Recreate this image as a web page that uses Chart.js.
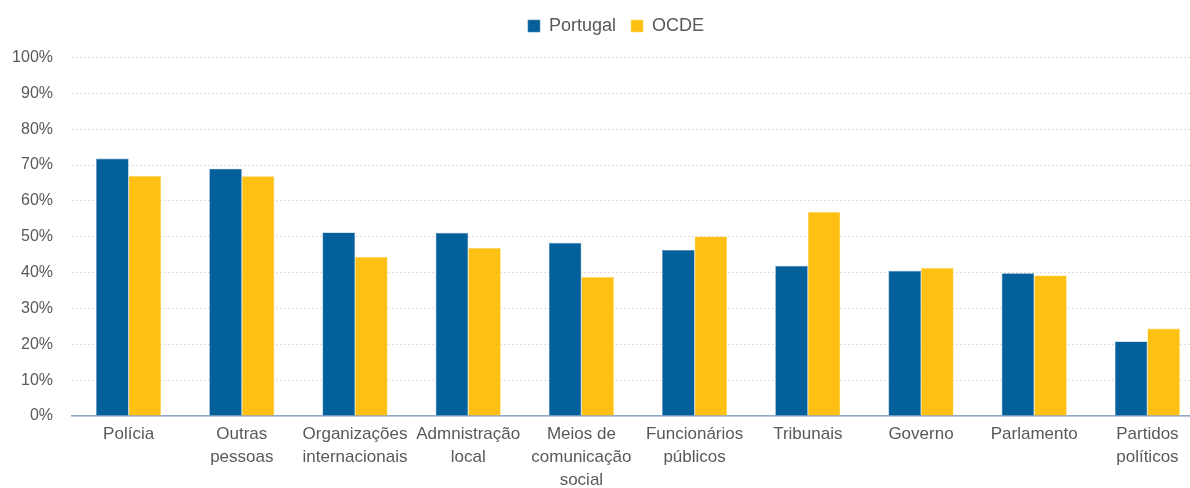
<!DOCTYPE html>
<html>
<head>
<meta charset="utf-8">
<script src="https://cdn.jsdelivr.net/npm/chart.js@4/dist/chart.umd.min.js"></script>
<style>
html,body{margin:0;padding:0;background:#fff;overflow:hidden;}
#wrap{position:absolute;left:0;top:0;width:1232px;height:488px;}
</style>
</head>
<body>
<div id="wrap"><canvas id="c" width="1232" height="488"></canvas></div>
<script>
const categories = [
  "Polícia",
  ["Outras", "pessoas"],
  ["Organizações", "internacionais"],
  ["Admnistração", "local"],
  ["Meios de", "comunicação", "social"],
  ["Funcionários", "públicos"],
  "Tribunais",
  "Governo",
  "Parlamento",
  ["Partidos", "políticos"]
];
const portugal = [71.8, 69.0, 51.2, 51.1, 48.3, 46.3, 41.9, 40.5, 39.8, 20.8];
const ocde = [67.0, 66.9, 44.4, 46.9, 38.8, 50.1, 56.9, 41.3, 39.2, 24.4];
const yTicks = [0, 10, 20, 30, 40, 50, 60, 70, 80, 90, 100];

const textColor = "#595959";
const font = "'Liberation Sans', Arial, sans-serif";

const legendHeight = {
  id: "legendHeight",
  afterInit(chart) {
    const lg = chart.legend;
    if (!lg) return;
    const orig = lg.fit.bind(lg);
    lg.fit = function () { orig(); this.height = 55.5; };
  }
};

new Chart(document.getElementById("c"), {
  type: "bar",
  data: {
    labels: categories,
    datasets: [
      { label: "Portugal", data: portugal, backgroundColor: "#03609B", borderColor: "#4F86BA", borderWidth: 0.6 },
      { label: "OCDE", data: ocde, backgroundColor: "#FEC012", borderColor: "#FFD966", borderWidth: 0.6 }
    ]
  },
  plugins: [legendHeight],
  options: {
    responsive: false,
    animation: false,
    devicePixelRatio: 1,
    layout: { padding: { top: 2, left: 0, right: 0, bottom: 0 } },
    datasets: { bar: { categoryPercentage: 0.575, barPercentage: 1.0 } },
    plugins: {
      tooltip: { enabled: false },
      legend: {
        position: "top",
        labels: {
          boxWidth: 12, boxHeight: 12, padding: 15,
          color: textColor,
          font: { family: font, size: 18 }
        }
      }
    },
    scales: {
      x: {
        grid: { display: false, drawTicks: false },
        border: { display: true, color: "#8FAAC9", width: 1.5 },
        ticks: { color: textColor, font: { family: font, size: 17, lineHeight: 1.35 }, padding: 7, maxRotation: 0, autoSkip: false },
        afterFit: s => { s.height = 72; }
      },
      y: {
        min: 0, max: 100,
        afterBuildTicks: s => { s.ticks = yTicks.map(v => ({ value: v })); },
        grid: { color: "#DDDDDD", drawTicks: false, lineWidth: 1 },
        border: { display: false, dash: [2, 2] },
        ticks: { color: textColor, font: { family: font, size: 16 }, padding: 19, callback: v => v + "%" },
        afterFit: s => { s.width = 72; }
      },
      spacer: {
        type: "linear",
        position: "right",
        display: true,
        grid: { display: false, drawTicks: false },
        border: { display: false },
        ticks: { display: false },
        afterFit: s => { s.width = 28; }
      }
    }
  }
});
</script>
</body>
</html>
